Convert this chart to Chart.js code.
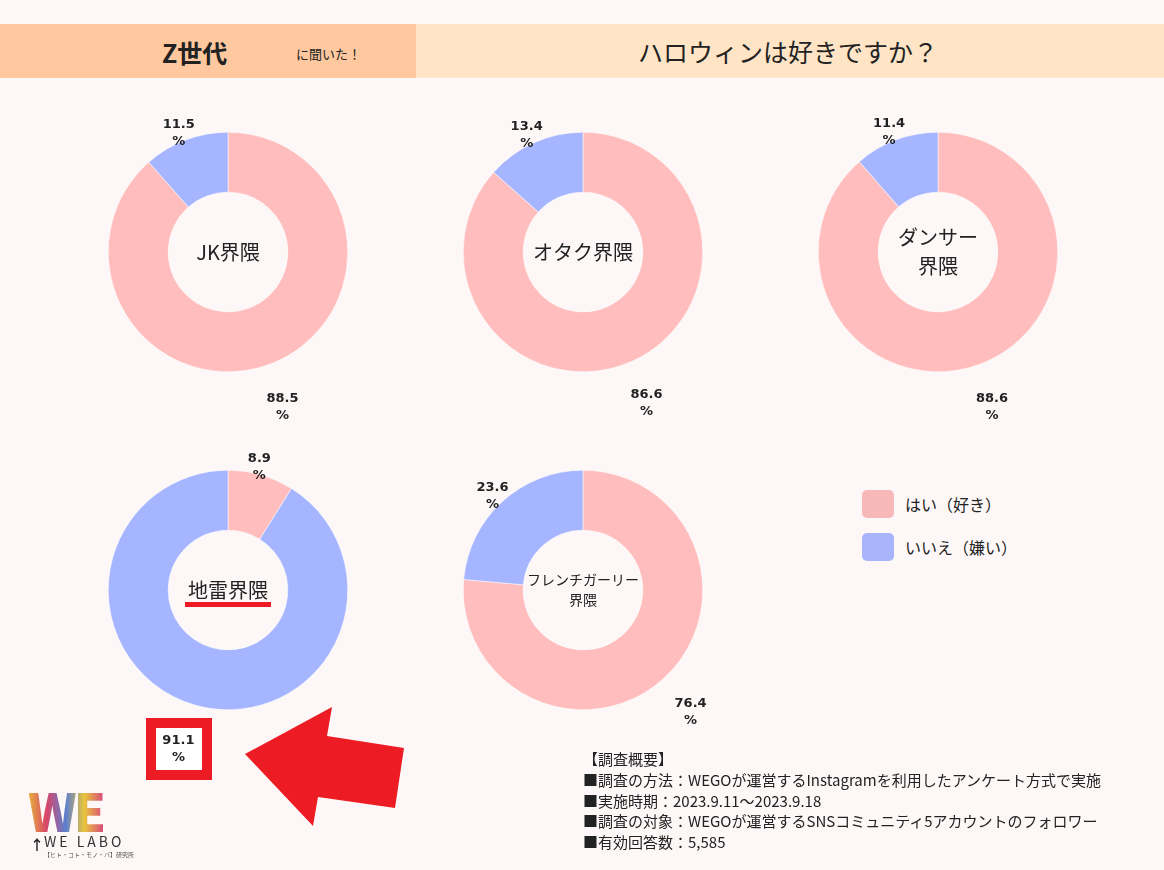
<!DOCTYPE html>
<html lang="ja">
<head>
<meta charset="utf-8">
<script src="https://cdn.jsdelivr.net/npm/chart.js@4.4.0/dist/chart.umd.min.js"></script>
<style>
  body { margin:0; width:1164px; height:870px; background:#fdf8f7; position:relative; overflow:hidden;
         font-family:"Noto Sans CJK JP","Noto Sans",sans-serif; color:#222; }
  .hdrL { position:absolute; left:0; top:24px; width:416px; height:54px; background:#ffc89e; }
  .hdrR { position:absolute; left:416px; top:24px; width:748px; height:54px; background:#ffe5c6; }
  .box { position:absolute; width:360px; height:360px; }
  .txt { position:absolute; white-space:nowrap; }
  .leg { position:absolute; left:862px; width:32px; height:28px; border-radius:5px; }
  .note { position:absolute; left:583px; font-size:15px; line-height:20.8px; top:749px; color:#222; }
</style>
</head>
<body>
<div class="hdrL"></div>
<div class="hdrR"></div>
<div class="txt" style="left:162px;top:34px;font-size:25px;font-weight:bold;">Z世代</div>
<div class="txt" style="left:296px;top:44px;font-size:13px;">に聞いた！</div>
<div class="txt" style="left:638px;top:33px;font-size:25px;">ハロウィンは好きですか？</div>

<!-- highlight box around 91.1% (under the chart canvas) -->
<div style="position:absolute;left:146px;top:718px;width:46px;height:42px;border:10px solid #ed1c24;background:#fff;"></div>

<div id="charts"></div>

<!-- legend -->
<div class="leg" style="top:490px;background:#f6b8b9;"></div>
<div class="txt" style="left:905px;top:492px;font-size:16px;" id="leg0"></div>
<div class="leg" style="top:533px;background:#a8b4fb;"></div>
<div class="txt" style="left:905px;top:535px;font-size:16px;" id="leg1"></div>

<svg style="position:absolute;left:0;top:0;" width="1164" height="870">
  <polygon points="245,754 332,707 327,736 404,748 395,808 318,797 313,826" fill="#ed1c24"/>
</svg>

<!-- logo -->
<div class="txt" style="left:28px;top:772px;font-size:52px;font-weight:900;letter-spacing:-3px;
  background:linear-gradient(90deg,#e8b33a,#d9456a,#5b7fd0,#e9c53c,#d94c7a);-webkit-background-clip:text;color:transparent;">WE</div>
<div class="txt" style="left:44px;top:831px;font-size:14px;letter-spacing:3px;color:#333;">WE LABO</div>
<div class="txt" style="left:30px;top:834px;font-size:14px;font-weight:bold;">↑</div>
<div class="txt" style="left:44px;top:850px;font-size:6px;color:#555;">【ヒト・コト・モノ・バ】研究所</div>

<div class="note">【調査概要】<br>■調査の方法：WEGOが運営するInstagramを利用したアンケート方式で実施<br>■実施時期：2023.9.11～2023.9.18<br>■調査の対象：WEGOが運営するSNSコミュニティ5アカウントのフォロワー<br>■有効回答数：5,585</div>

<script>
// data
const groups = ['JK界隈', 'オタク界隈', 'ダンサー界隈', '地雷界隈', 'フレンチガーリー界隈'];
const centerLines = [['JK界隈'], ['オタク界隈'], ['ダンサー', '界隈'], ['地雷界隈'], ['フレンチガーリー', '界隈']];
const yesValues = [88.5, 86.6, 88.6, 8.9, 76.4];
const noValues = [11.5, 13.4, 11.4, 91.1, 23.6];
const answerLabels = ['はい（好き）', 'いいえ（嫌い）'];

const colors = ['#ffbdbd', '#a5b5ff'];
const centers = [[228, 252], [583, 252], [938, 252], [228, 590], [583, 590]];

document.getElementById('leg0').innerText = answerLabels[0];
document.getElementById('leg1').innerText = answerLabels[1];

// labels outside of slices + text in the hole
const donutText = {
  id: 'donutText',
  afterDraw(chart, args, opts) {
    const ctx = chart.ctx;
    const meta = chart.getDatasetMeta(0);
    const vals = chart.data.datasets[0].data;
    ctx.save();
    ctx.fillStyle = '#222';
    ctx.textAlign = 'center';
    ctx.textBaseline = 'middle';
    ctx.font = 'bold 13px "DejaVu Sans", sans-serif';
    meta.data.forEach((arc, i) => {
      const mid = (arc.startAngle + arc.endAngle) / 2;
      const r = arc.outerRadius * (vals[i] > 50 ? 1.38 : 1.07);
      const x = arc.x + Math.cos(mid) * r - 4;
      const y = arc.y + Math.sin(mid) * r;
      ctx.fillText(vals[i].toFixed(1), x, y - 8);
      ctx.fillText('%', x, y + 9);
    });
    const a = meta.data[0];
    const lines = opts.lines;
    const size = opts.size;
    ctx.font = size + 'px "Noto Sans CJK JP", sans-serif';
    const gap = size * 1.45;
    lines.forEach((l, j) => {
      ctx.fillText(l, a.x, a.y + (j - (lines.length - 1) / 2) * gap);
    });
    if (opts.underline) {
      const w = ctx.measureText(lines[0]).width + 6;
      ctx.fillStyle = '#ed1c24';
      ctx.fillRect(a.x - w / 2, a.y + 12, w, 5);
    }
    ctx.restore();
  }
};

groups.forEach((g, i) => {
  const div = document.createElement('div');
  div.className = 'box';
  div.style.left = (centers[i][0] - 180) + 'px';
  div.style.top = (centers[i][1] - 180) + 'px';
  const cv = document.createElement('canvas');
  cv.width = 360; cv.height = 360;
  div.appendChild(cv);
  document.getElementById('charts').appendChild(div);
  new Chart(cv, {
    type: 'doughnut',
    data: {
      labels: answerLabels,
      datasets: [{ data: [yesValues[i], noValues[i]], backgroundColor: colors, borderColor: '#fff', borderWidth: 0.5 }]
    },
    options: {
      responsive: false,
      animation: false,
      cutout: '50%',
      layout: { padding: 60 },
      plugins: {
        legend: { display: false },
        tooltip: { enabled: false },
        donutText: { lines: centerLines[i], size: i === 4 ? 14 : 20, underline: i === 3 }
      }
    },
    plugins: [donutText]
  });
});
</script>
</body>
</html>
